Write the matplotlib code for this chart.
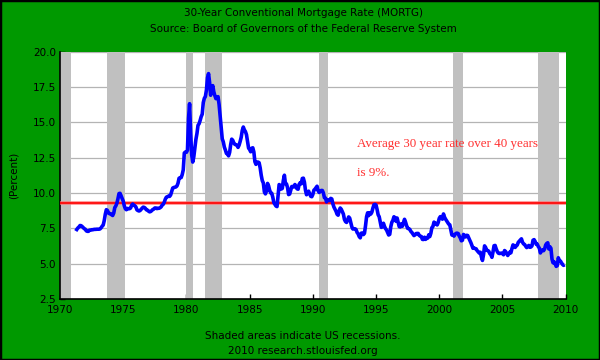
import matplotlib
matplotlib.use("Agg")
import matplotlib.pyplot as plt
import numpy as np
from matplotlib.patches import Rectangle

# 30-year conventional mortgage rate, monthly, Apr 1971 - Dec 2009
start_year = 1971 + 3 / 12.0
rates = [
    7.31, 7.43, 7.53, 7.60, 7.70, 7.69, 7.63, 7.55, 7.48,
    7.44, 7.32, 7.29, 7.29, 7.37, 7.37, 7.40, 7.40, 7.42, 7.43, 7.43, 7.44,
    7.44, 7.44, 7.46, 7.54, 7.65, 7.73, 8.05, 8.50, 8.82, 8.77, 8.58, 8.54,
    8.54, 8.46, 8.41, 8.58, 8.97, 9.09, 9.28, 9.59, 9.96, 9.98, 9.79, 9.62,
    9.43, 9.10, 8.89, 8.82, 8.91, 8.89, 8.89, 8.94, 9.13, 9.22, 9.14, 9.10,
    9.02, 8.81, 8.76, 8.73, 8.76, 8.85, 8.93, 9.00, 8.98, 8.92, 8.81, 8.79,
    8.72, 8.67, 8.69, 8.75, 8.83, 8.86, 8.94, 8.94, 8.90, 8.92, 8.92, 8.96,
    9.02, 9.15, 9.20, 9.36, 9.57, 9.71, 9.74, 9.78, 9.76, 9.86, 10.11, 10.35,
    10.39, 10.41, 10.43, 10.50, 10.69, 11.04, 11.09, 11.09, 11.30, 11.64, 12.83, 12.90,
    12.88, 13.04, 15.28, 16.32, 14.26, 12.71, 12.19, 12.56, 13.20, 13.79, 14.21, 14.79,
    14.90, 15.13, 15.40, 15.58, 16.40, 16.70, 16.83, 17.29, 18.16, 18.45, 17.83, 16.92,
    17.40, 17.60, 17.16, 16.89, 16.68, 16.70, 16.82, 16.27, 15.43, 14.61, 13.83, 13.62,
    13.25, 13.04, 12.80, 12.78, 12.63, 12.87, 13.42, 13.81, 13.73, 13.54, 13.44, 13.42,
    13.37, 13.23, 13.39, 13.65, 13.94, 14.42, 14.67, 14.47, 14.35, 14.13, 13.64, 13.18,
    13.08, 12.92, 13.17, 13.20, 12.91, 12.22, 12.03, 12.19, 12.19, 12.14, 11.78, 11.26,
    10.88, 10.71, 10.08, 9.94, 10.14, 10.68, 10.51, 10.20, 10.01, 9.98, 9.70, 9.32,
    9.20, 9.08, 9.04, 9.83, 10.60, 10.54, 10.28, 10.33, 10.89, 11.26, 10.65, 10.64,
    10.38, 9.89, 9.93, 10.20, 10.46, 10.46, 10.43, 10.60, 10.48, 10.30, 10.27, 10.61,
    10.73, 10.65, 11.03, 11.05, 10.77, 10.20, 9.88, 9.99, 10.13, 9.95, 9.77, 9.74,
    9.90, 10.20, 10.27, 10.37, 10.48, 10.16, 10.04, 10.10, 10.18, 10.18, 10.01, 9.67,
    9.64, 9.37, 9.50, 9.49, 9.47, 9.62, 9.58, 9.24, 9.01, 8.86, 8.71, 8.50,
    8.43, 8.76, 8.94, 8.85, 8.67, 8.51, 8.13, 7.98, 7.92, 8.09, 8.31, 8.22,
    7.93, 7.61, 7.45, 7.47, 7.47, 7.42, 7.21, 7.11, 6.92, 6.83, 7.16, 7.17,
    7.06, 7.15, 7.68, 8.32, 8.60, 8.40, 8.61, 8.51, 8.64, 8.93, 9.17, 9.20,
    9.15, 8.83, 8.46, 8.32, 7.96, 7.57, 7.61, 7.86, 7.64, 7.48, 7.38, 7.20,
    7.03, 7.08, 7.62, 7.93, 8.07, 8.32, 8.25, 8.00, 8.23, 7.92, 7.62, 7.60,
    7.82, 7.65, 7.90, 8.14, 7.94, 7.69, 7.50, 7.48, 7.43, 7.29, 7.21, 7.10,
    6.99, 7.04, 7.13, 7.14, 7.14, 7.00, 6.95, 6.92, 6.72, 6.71, 6.87, 6.72,
    6.79, 6.81, 7.04, 6.92, 7.15, 7.55, 7.63, 7.94, 7.82, 7.85, 7.74, 7.91,
    8.21, 8.33, 8.24, 8.15, 8.52, 8.29, 8.15, 8.03, 7.91, 7.80, 7.75, 7.38,
    7.03, 7.05, 6.95, 7.08, 7.15, 7.16, 7.13, 6.95, 6.82, 6.62, 6.66, 7.07,
    7.00, 6.89, 7.01, 6.99, 6.81, 6.65, 6.49, 6.29, 6.09, 6.11, 6.07, 6.05,
    5.92, 5.84, 5.75, 5.81, 5.48, 5.23, 5.63, 6.26, 6.15, 5.95, 5.93, 5.88,
    5.71, 5.64, 5.45, 5.83, 6.27, 6.29, 6.06, 5.87, 5.75, 5.72, 5.73, 5.75,
    5.71, 5.63, 5.93, 5.86, 5.72, 5.58, 5.70, 5.82, 5.77, 6.07, 6.33, 6.27,
    6.15, 6.25, 6.32, 6.51, 6.60, 6.68, 6.76, 6.52, 6.40, 6.36, 6.24, 6.14,
    6.22, 6.29, 6.16, 6.18, 6.26, 6.66, 6.70, 6.57, 6.38, 6.38, 6.21, 6.10,
    5.76, 5.92, 5.97, 5.92, 6.04, 6.32, 6.43, 6.48, 6.04, 6.20, 6.09, 5.33,
    5.06, 5.13, 5.00, 4.81, 4.86, 5.42, 5.22, 5.19, 5.06, 4.95, 4.88, 4.93,
]
years = start_year + np.arange(len(rates)) / 12.0

# recessions (start, end) in decimal years
rec_start = [1970.0, 1973.75, 1979.95, 1981.45, 1990.45, 2001.1, 2007.85]
rec_end = [1970.9, 1975.15, 1980.55, 1982.85, 1991.2, 2001.9, 2009.5]

avg_rate = 9.28

green = "#009900"
fig = plt.figure(figsize=(6, 3.6), dpi=100, facecolor=green)
ax = fig.add_axes([0.1, 0.1694, 0.8428, 0.687])
ax.set_facecolor("white")

for y in np.arange(5.0, 20.01, 2.5):
    ax.axhline(y, color="#b4b4b4", lw=0.9, zorder=1)
for a, b in zip(rec_start, rec_end):
    ax.axvspan(a, b, color="#c0c0c0", lw=0, zorder=2)

ax.axhline(avg_rate, color="#ff7070", lw=2.6, alpha=0.8, zorder=3)
ax.axhline(avg_rate, color="#ff0000", lw=1.2, zorder=3)
ax.plot(years, rates, color="#0000ff", lw=2.6, zorder=4, solid_capstyle="butt")

ax.text(1993.5, 13.5, "Average 30 year rate over 40 years", color="#ff3030",
        family="Liberation Serif", fontsize=9.4, va="center", ha="left", zorder=5)
ax.text(1993.5, 11.45, "is 9%.", color="#ff3030",
        family="Liberation Serif", fontsize=9.4, va="center", ha="left", zorder=5)

ax.set_xlim(1970, 2010)
ax.set_ylim(2.5, 20.0)
ax.set_xticks(np.arange(1970, 2011, 5))
ax.set_yticks(np.arange(2.5, 20.01, 2.5))
ax.set_yticklabels(["%.1f" % v for v in np.arange(2.5, 20.01, 2.5)])
ax.tick_params(direction="in", length=3.5, width=1, labelsize=7.5, colors="black")
ax.tick_params(axis="x", pad=4)
ax.tick_params(axis="y", pad=3)
for s in ["top", "right"]:
    ax.spines[s].set_visible(False)
for s in ["left", "bottom"]:
    ax.spines[s].set_linewidth(1.2)
ax.set_ylabel("(Percent)", fontsize=7.5, labelpad=10)

fig.text(0.505, 1 - 12.6 / 360, "30-Year Conventional Mortgage Rate (MORTG)",
         ha="center", va="center", fontsize=7.5)
fig.text(0.505, 1 - 28.7 / 360, "Source: Board of Governors of the Federal Reserve System",
         ha="center", va="center", fontsize=7.5)
fig.text(0.504, 1 - 336 / 360, "Shaded areas indicate US recessions.",
         ha="center", va="center", fontsize=7.5)
fig.text(0.504, 1 - 351 / 360, "2010 research.stlouisfed.org",
         ha="center", va="center", fontsize=7.5)

fig.patches.append(Rectangle((0, 0), 1, 1, transform=fig.transFigure,
                             fill=False, edgecolor="black", lw=2.5))

fig.savefig("out.png", dpi=100, facecolor=green)
